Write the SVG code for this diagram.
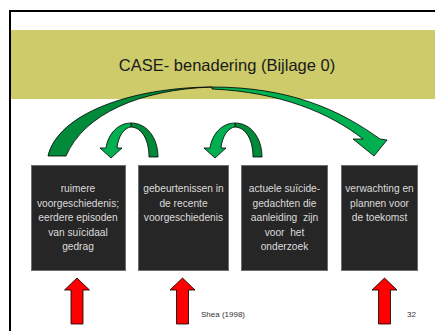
<svg xmlns="http://www.w3.org/2000/svg" width="435" height="331" viewBox="0 0 435 331">
<style>
.box{fill:#262626;stroke:#6e6e6e;stroke-width:1}
.bt{font-family:"Liberation Sans",Arial,sans-serif;font-size:10.2px;fill:#dcdcdc;text-anchor:middle;white-space:pre}
.dk{fill:#008a3a;stroke:#000;stroke-width:0.8;stroke-linejoin:round}
.br{fill:#00b050;stroke:#000;stroke-width:0.8;stroke-linejoin:round}
.red{fill:#ff0000;stroke:#000;stroke-width:0.8}
.small{font-family:"Liberation Sans",Arial,sans-serif;font-size:8px;fill:#333}
</style>
<defs>
<g id="smallArc">
<path class="dk" d="M131,123 C147,123 158,138 158,157 L149,157 C149,140 142,127.5 131,127 Z"/>
<path class="br" d="M131,123 C118,123 108,134 106,148 L100,148 L111,158 L122,148 L117,148 C118,137 124,127.5 131,127 Z"/>
</g>
</defs>
<rect width="435" height="331" fill="#fff"/>
<rect x="10" y="11" width="440" height="340" fill="none" stroke="#000" stroke-width="2"/>
<rect x="11" y="30" width="424" height="69" fill="#cdcb6a"/>
<text x="227" y="71" font-family="Liberation Sans,Arial,sans-serif" font-size="16.5" fill="#1a1a1a" text-anchor="middle">CASE- benadering (Bijlage 0)</text>

<g id="connectors">
<path class="dk" d="M48,156 C58,114 130,87.5 212,87 C140,89.5 84,114 66,156 Z"/>
<path class="br" d="M212,87 C290,87 340,110 380,139 L387,140 L374,156 L353,139 L363,139 C330,113 280,92 212,89 Z"/>
<use href="#smallArc"/>
<use href="#smallArc" transform="translate(104,0)"/>
</g>

<g id="box1">
<rect class="box" x="31.5" y="165.5" width="94" height="105"/>
<text class="bt" x="78" y="192">ruimere</text>
<text class="bt" x="78" y="206.5">voorgeschiedenis;</text>
<text class="bt" x="78" y="221">eerdere episoden</text>
<text class="bt" x="78" y="235.5">van suïcidaal</text>
<text class="bt" x="78" y="250">gedrag</text>
</g>
<g id="box2">
<rect class="box" x="138.5" y="165.5" width="90" height="105"/>
<text class="bt" x="183.5" y="192">gebeurtenissen in</text>
<text class="bt" x="183.5" y="206.5">de recente</text>
<text class="bt" x="183.5" y="221">voorgeschiedenis</text>
</g>
<g id="box3">
<rect class="box" x="241.5" y="165.5" width="86" height="105"/>
<text class="bt" x="284.5" y="192">actuele suïcide-</text>
<text class="bt" x="284.5" y="206.5">gedachten die</text>
<text class="bt" x="284.5" y="221">aanleiding  zijn</text>
<text class="bt" x="284.5" y="235.5">voor  het</text>
<text class="bt" x="284.5" y="250">onderzoek</text>
</g>
<g id="box4">
<rect class="box" x="341.5" y="165.5" width="76" height="105"/>
<text class="bt" x="379.5" y="192">verwachting en</text>
<text class="bt" x="379.5" y="206.5">plannen voor</text>
<text class="bt" x="379.5" y="221">de toekomst</text>
</g>

<g id="redArrows">
<path class="red" d="M77,278 L89.5,290 L83,290 L83,324 L71,324 L71,290 L64.5,290 Z"/>
<path class="red" d="M182.5,278 L195,290 L188.5,290 L188.5,324 L176.5,324 L176.5,290 L170,290 Z"/>
<path class="red" d="M384.5,278 L397,290 L390.5,290 L390.5,324 L378.5,324 L378.5,290 L372,290 Z"/>
</g>
<text class="small" x="201" y="317">Shea (1998)</text>
<text class="small" x="407" y="317">32</text>
</svg>
